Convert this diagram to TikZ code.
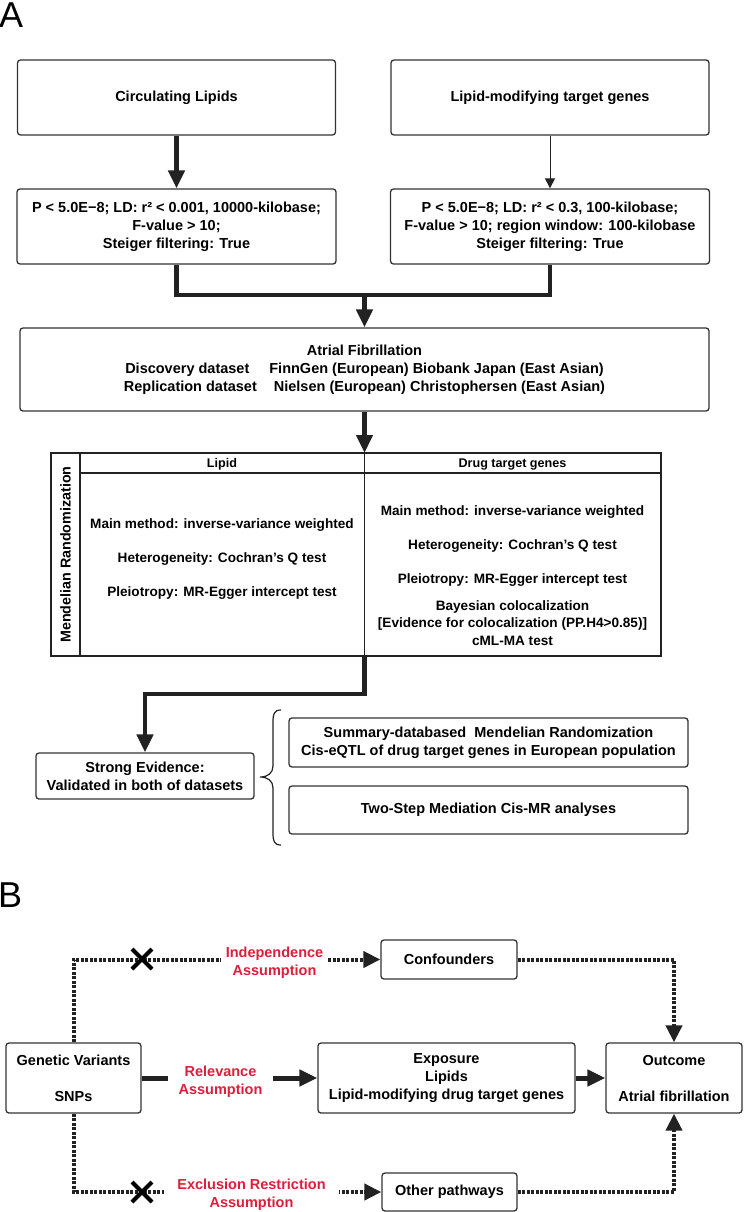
\documentclass[tikz,border=0pt]{standalone}
\usepackage{fontspec}
\setmainfont{Liberation Sans}
\usetikzlibrary{arrows.meta}
\definecolor{ink}{HTML}{222222}
\definecolor{boxc}{HTML}{333333}
\definecolor{redc}{RGB}{222,30,60}
\newcommand\bxf{\fontsize{14.5}{18}\selectfont\bfseries}
\newcommand\tbf{\fontsize{13.6}{16}\selectfont\bfseries}
\newcommand\hdf{\fontsize{12.6}{15}\selectfont\bfseries}
\newcommand\bigf{\fontsize{36}{36}\selectfont}
\begin{document}
\begin{tikzpicture}[x=1pt,y=-1pt,
  box/.style={draw=boxc, line width=1.3pt, rounded corners=3pt, align=center, font=\bxf, inner sep=0pt, text=black},
  tbl/.style={draw=ink, line width=1.8pt},
  ttext/.style={font=\tbf, inner sep=0pt},
  htext/.style={font=\hdf, inner sep=0pt},
  thk/.style={draw=ink, line width=4.5pt, line join=miter, -{Triangle[width=16pt,length=18pt]}},
  thkline/.style={draw=ink, line width=4.5pt, line join=miter},
  thin/.style={draw=ink, line width=1pt, -{Triangle[width=10pt,length=10pt]}},
  dotl/.style={draw=ink, line width=4pt, dash pattern=on 3pt off 1.5pt, -{Triangle[width=16pt,length=17pt]}},
  lab/.style={font=\bxf, text=redc, align=center, fill=white, inner ysep=1pt},
  xm/.style={draw=black, line width=4pt},
  bigl/.style={font=\bigf, anchor=base west, inner sep=0pt}
]
\useasboundingbox (0,0) rectangle (744,1212);

% ---------- Panel A ----------
\node[bigl] (labA) at (-1,28) {A};

\node[box, minimum width=318pt, minimum height=75pt] (lip) at (176.5,97.5) {Circulating Lipids};
\node[box, minimum width=318pt, minimum height=75pt] (gen) at (550,97.5) {Lipid-modifying target genes};
\node[box, minimum width=319pt, minimum height=75pt] (lipf) at (176.5,226.5)
  {P < 5.0E−8; LD: r² < 0.001, 10000-kilobase;\\F-value > 10;\\Steiger filtering: True};
\node[box, minimum width=319pt, minimum height=75pt] (genf) at (550,226.5)
  {P < 5.0E−8; LD: r² < 0.3, 100-kilobase;\\F-value > 10; region window: 100-kilobase\\Steiger filtering: True};

\draw[thk] (lip.south) -- (lipf.north);
\draw[thin] (gen.south) -- (genf.north);

\coordinate (jn) at (364.5,295);
\draw[thkline] (lipf.south) |- (jn) -| (genf.south);

\node[box, minimum width=689pt, minimum height=83pt] (af) at (364.5,369.5)
  {Atrial Fibrillation\\Discovery dataset\hspace{20pt}FinnGen (European) Biobank Japan (East Asian)\\Replication dataset\hspace{17pt}Nielsen (European) Christophersen (East Asian)};
\draw[thk] (jn) -- (af.north);

% MR table
\coordinate (tt) at (364.5,453);
\coordinate (tb) at (364.5,656);
\draw[thk] (af.south) -- (tt);
\draw[tbl] (51,453) rectangle (661,656);
\draw[tbl] (80,453) -- (80,656);
\draw[tbl] (80,473) -- (661,473);
\draw[tbl] (tt) -- (tb);

\node[font=\fontsize{14.3}{16}\selectfont\bfseries, rotate=90, inner sep=0pt] (mr) at (65.5,554.5) {Mendelian Randomization};
\node[htext] (hl) at (222,464) {Lipid};
\node[htext] (hr) at (512.5,464) {Drug target genes};

\node[ttext] (l1) at (222,525) {Main method: inverse-variance weighted};
\node[ttext] (l2) at (222,559) {Heterogeneity: Cochran's Q test};
\node[ttext] (l3) at (222,593) {Pleiotropy: MR-Egger intercept test};

\node[ttext] (r1) at (512.5,512) {Main method: inverse-variance weighted};
\node[ttext] (r2) at (512.5,546) {Heterogeneity: Cochran's Q test};
\node[ttext] (r3) at (512.5,580) {Pleiotropy: MR-Egger intercept test};
\node[ttext] (r4) at (512.5,607) {Bayesian colocalization};
\node[ttext] (r5) at (512.5,624) {[Evidence for colocalization (PP.H4>0.85)]};
\node[ttext] (r6) at (512.5,641) {cML-MA test};

% Strong evidence
\node[box, minimum width=218pt, minimum height=46pt] (se) at (145,776) {Strong Evidence:\\Validated in both of datasets};
\coordinate (bend) at (145,694);
\draw[thk] (tb) |- (bend) -- (se.north);

\draw[draw=ink, line width=1.2pt]
  (281,710) .. controls (274,710) and (273,714) .. (273,722) -- (273,766)
  .. controls (273,773) and (268,777) .. (260,777)
  .. controls (268,777) and (273,781) .. (273,788) -- (273,833)
  .. controls (273,841) and (274,845) .. (281,845);

\node[box, minimum width=399pt, minimum height=49pt] (smr) at (488.5,742.5)
  {Summary-databased\ \ Mendelian Randomization\\Cis-eQTL of drug target genes in European population};
\node[box, minimum width=399pt, minimum height=48pt] (two) at (488.5,810) {Two-Step Mediation Cis-MR analyses};

% ---------- Panel B ----------
\node[bigl] (labB) at (-2,907) {B};

\node[box, minimum width=136pt, minimum height=39pt] (conf) at (449,959.5) {Confounders};
\node[box, minimum width=135pt, minimum height=70pt] (gv) at (73.5,1078) {Genetic Variants\\[18pt]SNPs};
\node[box, minimum width=257pt, minimum height=70pt] (exp) at (446.5,1078) {Exposure\\Lipids\\Lipid-modifying drug target genes};
\node[box, minimum width=136pt, minimum height=70pt] (out) at (674,1078) {Outcome\\[18pt]Atrial fibrillation};
\node[box, minimum width=135pt, minimum height=38pt] (oth) at (449.5,1192) {Other pathways};

\draw[dotl] (gv.north) |- (conf.west);
\draw[dotl] (conf.east) -| (out.north);
\draw[dotl] (gv.south) |- (oth.west);
\draw[dotl] (oth.east) -| (out.south);
\draw[thk, line width=5pt] (gv.east) -- (exp.west);
\draw[thk, line width=5pt] (exp.east) -- (out.west);

\node[lab, inner xsep=5pt] (ind) at (274.5,963) {Independence\\Assumption};
\node[lab, inner xsep=11pt] (rel) at (220.5,1082) {Relevance\\Assumption};
\node[lab, inner xsep=13pt] (exc) at (251.5,1195) {Exclusion Restriction\\Assumption};

\draw[xm] (132,949) -- (152,969) (132,969) -- (152,949);
\draw[xm] (132,1182) -- (152,1202) (132,1202) -- (152,1182);
\end{tikzpicture}
\end{document}
